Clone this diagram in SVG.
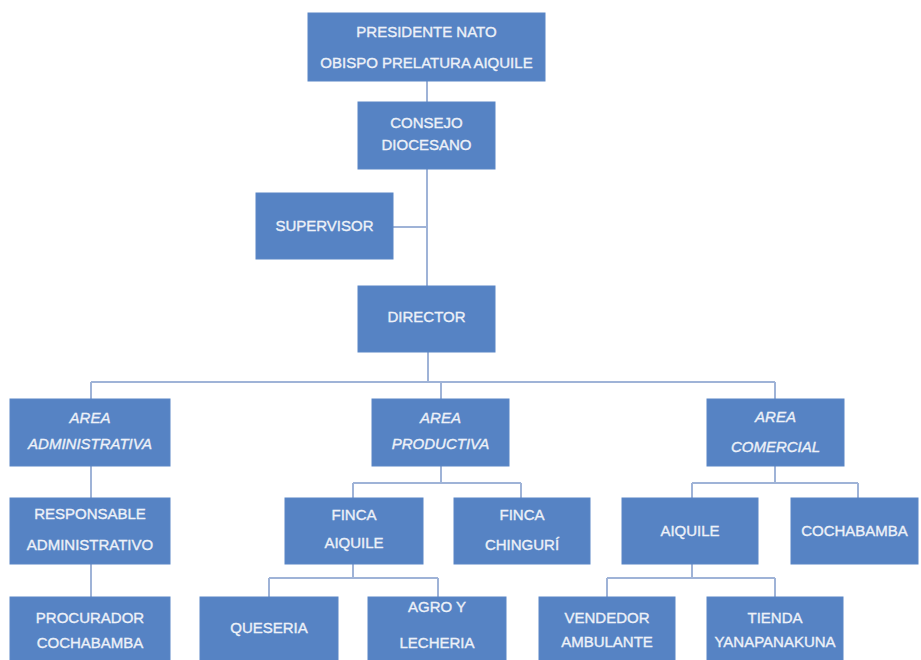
<svg xmlns="http://www.w3.org/2000/svg" width="921" height="660" viewBox="0 0 921 660">
<style>
.b{fill:#5683c4;stroke:#5a86c6;stroke-width:1}
.t{font-family:"Liberation Sans",Arial,sans-serif;font-size:15px;fill:#edf1f8;stroke:#edf1f8;stroke-width:0.35;text-anchor:middle}
.i{font-style:italic}
.c{fill:none;stroke:#9fb3d7;stroke-width:2}
</style>
<rect width="921" height="660" fill="#ffffff"/>
<g id="connectors">
<path class="c" d="M427 81V102"/>
<path class="c" d="M427 169V286M393 227H427"/>
<path class="c" d="M428 352V382M91 382H775M91 382V399M441 382V399M775 382V399"/>
<path class="c" d="M91 466V498M91 564V597"/>
<path class="c" d="M441 466V483M353 483H521M353 483V498M521 483V498"/>
<path class="c" d="M775 466V483M692 483H858M692 483V498M858 483V498"/>
<path class="c" d="M353 564V578M269 578H438M269 578V597M438 578V597"/>
<path class="c" d="M692 564V578M607 578H775M607 578V597M775 578V597"/>
</g>
<g id="presidente"><rect class="b" x="308" y="13" width="237" height="68"/><text class="t" x="426.5" y="37">PRESIDENTE NATO</text><text class="t" x="426.5" y="68">OBISPO PRELATURA AIQUILE</text></g>
<g id="consejo"><rect class="b" x="358" y="102" width="137" height="67"/><text class="t" x="426.5" y="128">CONSEJO</text><text class="t" x="426.5" y="150">DIOCESANO</text></g>
<g id="supervisor"><rect class="b" x="256" y="193" width="137" height="66"/><text class="t" x="324.5" y="231">SUPERVISOR</text></g>
<g id="director"><rect class="b" x="358" y="286" width="137" height="66"/><text class="t" x="426.5" y="322">DIRECTOR</text></g>
<g id="area-admin"><rect class="b" x="10" y="399" width="160" height="67"/><text class="t i" x="90" y="423">AREA</text><text class="t i" x="90" y="449">ADMINISTRATIVA</text></g>
<g id="area-prod"><rect class="b" x="372" y="399" width="137" height="67"/><text class="t i" x="440.5" y="423">AREA</text><text class="t i" x="440.5" y="449">PRODUCTIVA</text></g>
<g id="area-com"><rect class="b" x="707" y="399" width="137" height="67"/><text class="t i" x="775.5" y="422">AREA</text><text class="t i" x="775.5" y="452">COMERCIAL</text></g>
<g id="responsable"><rect class="b" x="10" y="498" width="160" height="66"/><text class="t" x="90" y="519">RESPONSABLE</text><text class="t" x="90" y="550">ADMINISTRATIVO</text></g>
<g id="finca-aiquile"><rect class="b" x="285" y="498" width="138" height="66"/><text class="t" x="354" y="520">FINCA</text><text class="t" x="354" y="548">AIQUILE</text></g>
<g id="finca-chinguri"><rect class="b" x="454" y="498" width="136" height="66"/><text class="t" x="522" y="520">FINCA</text><text class="t" x="522" y="550">CHINGURÍ</text></g>
<g id="aiquile"><rect class="b" x="622" y="498" width="136" height="66"/><text class="t" x="690" y="536">AIQUILE</text></g>
<g id="cochabamba"><rect class="b" x="791" y="498" width="127" height="66"/><text class="t" x="854.5" y="536">COCHABAMBA</text></g>
<g id="procurador"><rect class="b" x="10" y="597" width="160" height="70"/><text class="t" x="90" y="623">PROCURADOR</text><text class="t" x="90" y="648">COCHABAMBA</text></g>
<g id="queseria"><rect class="b" x="200" y="597" width="138" height="70"/><text class="t" x="269" y="633">QUESERIA</text></g>
<g id="agro"><rect class="b" x="368" y="597" width="138" height="70"/><text class="t" x="437" y="612">AGRO Y</text><text class="t" x="437" y="648">LECHERIA</text></g>
<g id="vendedor"><rect class="b" x="539" y="597" width="136" height="70"/><text class="t" x="607" y="623">VENDEDOR</text><text class="t" x="607" y="647">AMBULANTE</text></g>
<g id="tienda"><rect class="b" x="707" y="597" width="136" height="70"/><text class="t" x="775" y="623">TIENDA</text><text class="t" x="775" y="647">YANAPANAKUNA</text></g>
</svg>
